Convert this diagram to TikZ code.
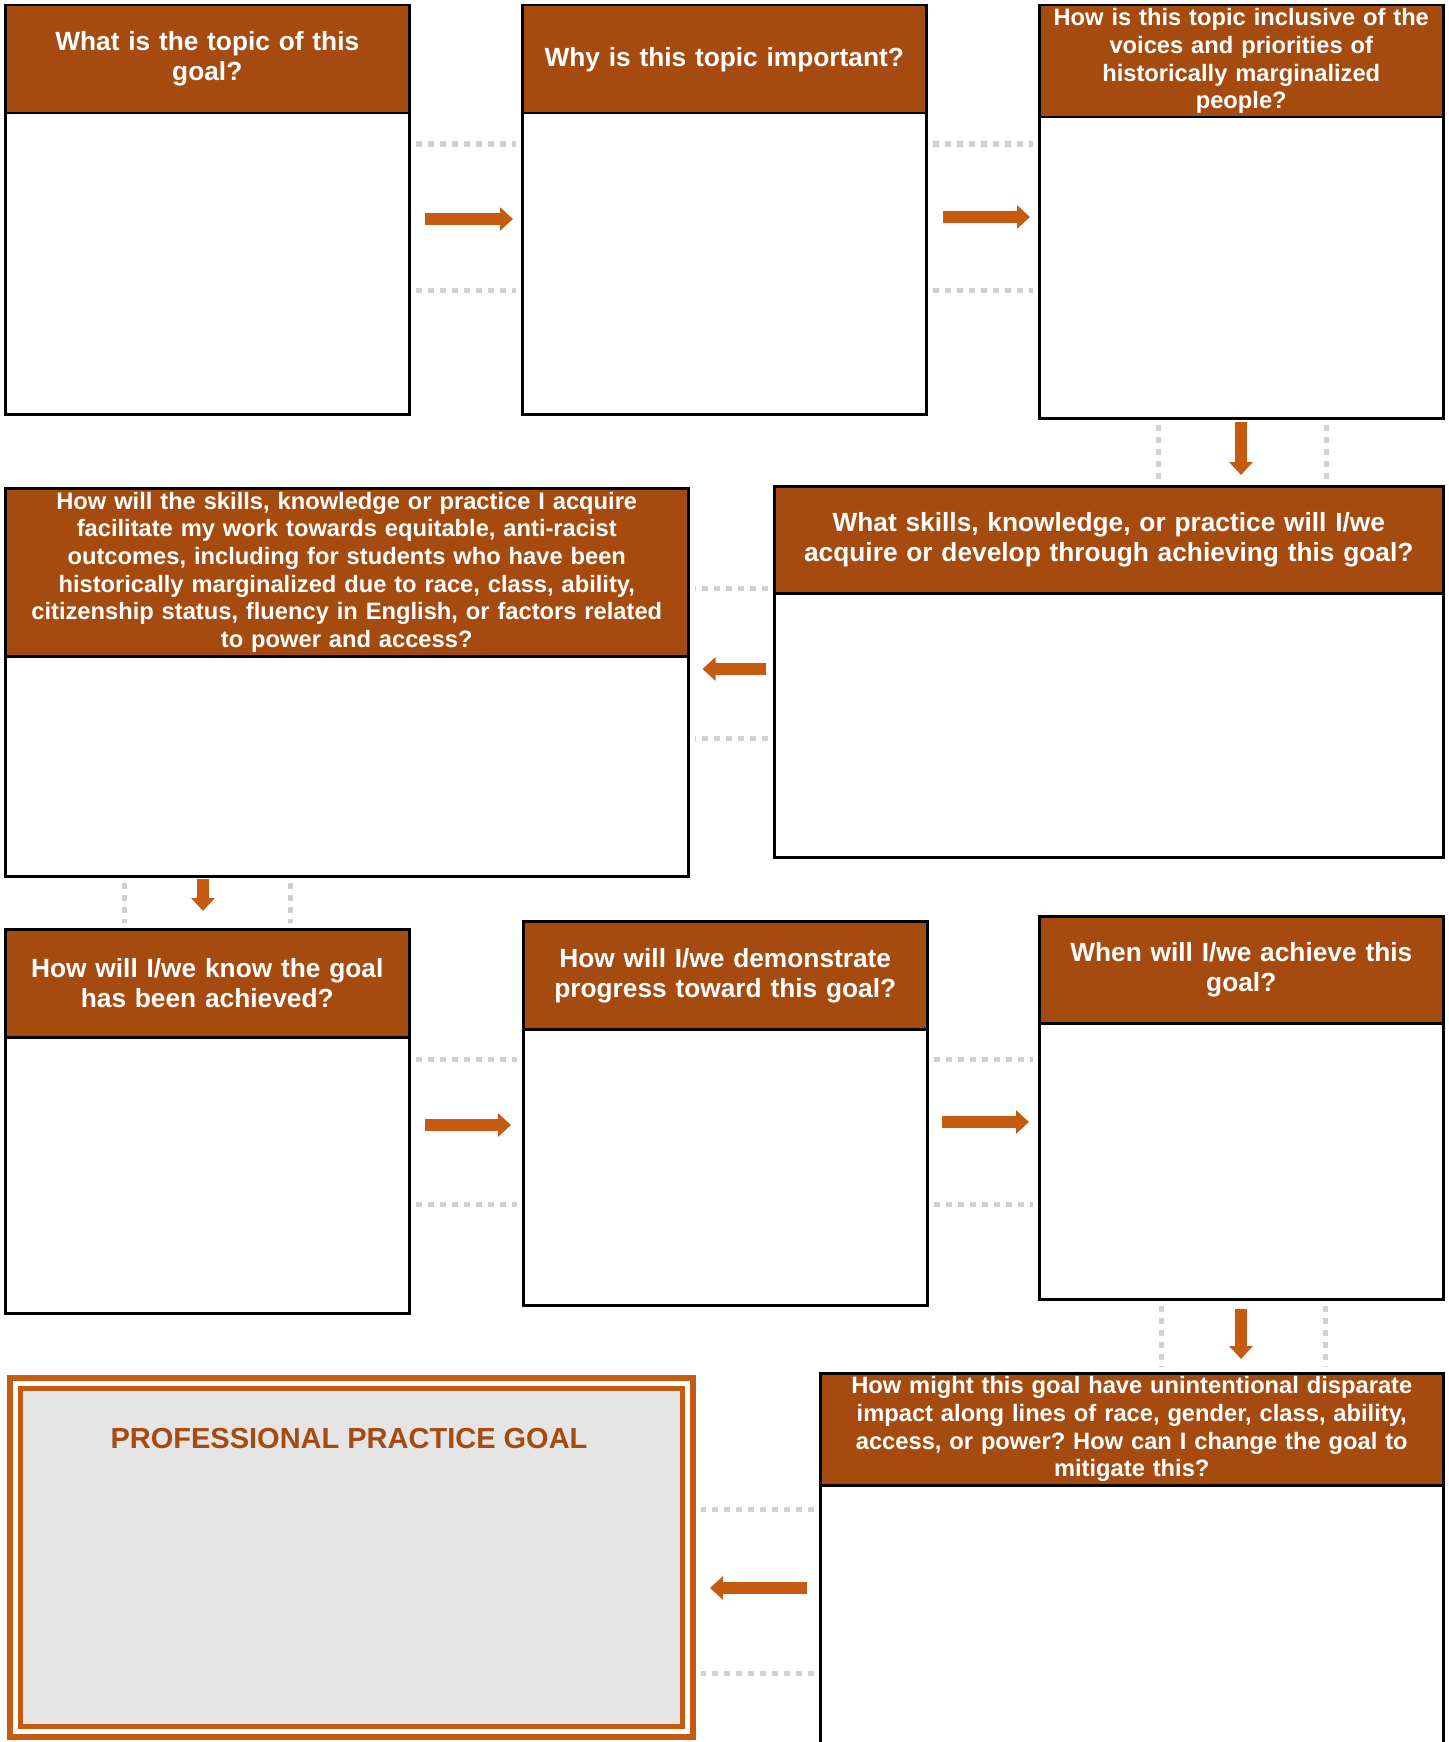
\documentclass[tikz,border=0pt]{standalone}
\usepackage{fontspec}
\setmainfont{Liberation Sans}
\usetikzlibrary{arrows.meta}
\frenchspacing

\definecolor{hdr}{HTML}{A64B0F}
\definecolor{arr}{HTML}{C55A11}
\definecolor{dots}{HTML}{D0D0D0}
\definecolor{goalgray}{HTML}{E5E5E5}

\begin{document}
\begin{tikzpicture}[x=1pt, y=-1pt,
    card/.style = {draw, line width=2.5pt, fill=white, anchor=north west, inner sep=0pt},
    head/.style = {draw, line width=2.5pt, fill=hdr, text=white, anchor=north west,
                   align=center, inner sep=0pt, font=\bfseries\fontsize{26.3}{30}\selectfont},
    small/.style = {font=\bfseries\fontsize{23.7}{27.7}\selectfont},
    flow/.style = {arr, line width=12pt, -{Triangle[width=23pt,length=13pt]}},
    dotline/.style = {dots, line width=5pt, dash pattern=on 6pt off 6pt,
                      shorten <=5pt, shorten >=5pt}]
  \useasboundingbox (0,0) rectangle (1448,1742);
  \clip (0,0) rectangle (1448,1742);

  % row 1
  \node[card, minimum width=404, minimum height=409] (topic) at (4,4) {};
  \node[head, minimum width=404, minimum height=108, text width=396] (topic-h) at (4,4)
    {What is the topic of this\\goal?};
  \node[card, minimum width=404, minimum height=409] (why) at (521,4) {};
  \node[head, minimum width=404, minimum height=108, text width=396] (why-h) at (521,4)
    {Why is this topic important?};
  \node[card, minimum width=404, minimum height=413] (incl) at (1038,4) {};
  \node[head, small, minimum width=404, minimum height=112, text width=398] (incl-h) at (1038,4)
    {How is this topic inclusive of the\\voices and priorities of\\historically marginalized\\people?};

  % row 2
  \node[card, minimum width=669, minimum height=371] (skills) at (773,485) {};
  \node[head, minimum width=669, minimum height=107, text width=660] (skills-h) at (773,485)
    {What skills, knowledge, or practice will I/we\\acquire or develop through achieving this goal?};
  \node[card, minimum width=683, minimum height=388] (equity) at (4,487) {};
  \node[head, small, minimum width=683, minimum height=168, text width=676] (equity-h) at (4,487)
    {How will the skills, knowledge or practice I acquire\\facilitate my work towards equitable, anti-racist\\
     outcomes, including for students who have been\\historically marginalized due to race, class, ability,\\
     citizenship status, fluency in English, or factors related\\to power and access?};

  % row 3
  \node[card, minimum width=404, minimum height=384] (know) at (4,928) {};
  \node[head, minimum width=404, minimum height=108, text width=396] (know-h) at (4,928)
    {How will I/we know the goal\\has been achieved?};
  \node[card, minimum width=404, minimum height=384] (prog) at (522,920) {};
  \node[head, minimum width=404, minimum height=108, text width=396] (prog-h) at (522,920)
    {How will I/we demonstrate\\progress toward this goal?};
  \node[card, minimum width=404, minimum height=383] (when) at (1038,915) {};
  \node[head, minimum width=404, minimum height=107, text width=396] (when-h) at (1038,915)
    {When will I/we achieve this\\goal?};

  % row 4
  \node[card, minimum width=623, minimum height=420] (impact) at (819,1372) {};
  \node[head, small, minimum width=623, minimum height=112, text width=616] (impact-h) at (819,1372)
    {How might this goal have unintentional disparate\\impact along lines of race, gender, class, ability,\\
     access, or power? How can I change the goal to\\mitigate this?};
  \node[draw=arr, line width=6pt, anchor=north west, inner sep=0pt,
        minimum width=683, minimum height=359] (goal) at (7,1375) {};
  \node[draw=arr, fill=goalgray, line width=5pt, anchor=north west, inner sep=0pt,
        minimum width=662, minimum height=338] (goal-in) at (17.5,1385.5) {};
  \node[text=hdr, font=\bfseries\fontsize{29}{33}\selectfont] (goal-t) at (349,1438)
    {PROFESSIONAL PRACTICE GOAL};

  % dotted guides
  \draw[dotline] (topic.east |- 0,144) -- (why.west |- 0,144);
  \draw[dotline] (topic.east |- 0,290) -- (why.west |- 0,290);
  \draw[dotline] (why.east |- 0,144) -- (incl.west |- 0,144);
  \draw[dotline] (why.east |- 0,290) -- (incl.west |- 0,290);
  \draw[dotline] (incl.south -| 1158,0) -- (skills.north -| 1158,0);
  \draw[dotline] (incl.south -| 1326,0) -- (skills.north -| 1326,0);
  \draw[dotline] (skills.west |- 0,588) -- (equity.east |- 0,588);
  \draw[dotline] (skills.west |- 0,738) -- (equity.east |- 0,738);
  \draw[dotline] (equity.south -| 124,0) -- (know.north -| 124,0);
  \draw[dotline] (equity.south -| 290,0) -- (know.north -| 290,0);
  \draw[dotline] (know.east |- 0,1059) -- (prog.west |- 0,1059);
  \draw[dotline] (know.east |- 0,1204) -- (prog.west |- 0,1204);
  \draw[dotline] (prog.east |- 0,1059) -- (when.west |- 0,1059);
  \draw[dotline] (prog.east |- 0,1204) -- (when.west |- 0,1204);
  \draw[dotline] (when.south -| 1161,0) -- (impact.north -| 1161,0);
  \draw[dotline] (when.south -| 1325,0) -- (impact.north -| 1325,0);
  \draw[dotline] (impact.west |- 0,1509) -- (goal.east |- 0,1509);
  \draw[dotline] (impact.west |- 0,1673) -- (goal.east |- 0,1673);

  % arrows
  \draw[flow, shorten <=14pt, shorten >=8pt] (topic.east |- 0,219) -- (why.west |- 0,219);
  \draw[flow, shorten <=15pt, shorten >=8pt] (why.east |- 0,217) -- (incl.west |- 0,217);
  \draw[flow, shorten <=2pt, shorten >=10pt] (incl.south -| 1241,0) -- (skills.north -| 1241,0);
  \draw[flow, shorten <=7pt, shorten >=13pt] (skills.west |- 0,669) -- (equity.east |- 0,669);
  \draw[flow, shorten <=1pt, shorten >=17pt] (equity.south -| 203,0) -- (know.north -| 203,0);
  \draw[flow, shorten <=14pt, shorten >=11pt] (know.east |- 0,1125) -- (prog.west |- 0,1125);
  \draw[flow, shorten <=13pt, shorten >=9pt] (prog.east |- 0,1122) -- (when.west |- 0,1122);
  \draw[flow, shorten <=8pt, shorten >=13pt] (when.south -| 1241,0) -- (impact.north -| 1241,0);
  \draw[flow, shorten <=12pt, shorten >=14pt] (impact.west |- 0,1588) -- (goal.east |- 0,1588);
\end{tikzpicture}
\end{document}
